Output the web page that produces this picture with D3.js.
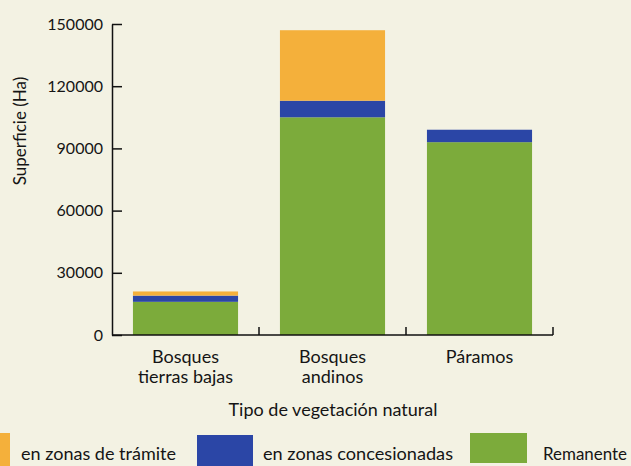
<!DOCTYPE html>
<html>
<head>
<meta charset="utf-8">
<script src="https://cdn.jsdelivr.net/npm/d3@7/dist/d3.min.js"></script>
<style>
html,body{margin:0;padding:0;background:#f3f2e3;}
svg{display:block;}
text{font-family:Lato,"Open Sans",sans-serif;fill:#151515;}
</style>
</head>
<body>
<svg id="chart" width="631" height="466"></svg>
<script>
const categories = [["Bosques","tierras bajas"],["Bosques","andinos"],["Páramos"]];
const categoryKeys = ["Bosques tierras bajas","Bosques andinos","Páramos"];
const remanente = [16000, 105000, 93000];
const concesionadas = [3000, 8000, 6000];
const tramite = [2000, 34000, 0];
const yTicks = [0, 30000, 60000, 90000, 120000, 150000];
const seriesNames = ["en zonas de trámite","en zonas concesionadas","Remanente"];
const colors = {remanente:"#7cab3b", concesionadas:"#2b46a6", tramite:"#f4b03b"};

const rows = categoryKeys.map((c,i)=>({cat:c, remanente:remanente[i], concesionadas:concesionadas[i], tramite:tramite[i]}));
const keys = ["remanente","concesionadas","tramite"];
const stacked = d3.stack().keys(keys)(rows);

const svg = d3.select("#chart");
const x = d3.scaleBand().domain(categoryKeys).range([112,553]).paddingInner(0.285).paddingOuter(0.1425);
const y = d3.scaleLinear().domain([0,150000]).range([335,24]);

// bars
svg.append("g").selectAll("g").data(stacked).join("g")
  .attr("fill", d=>colors[d.key])
  .selectAll("rect").data(d=>d).join("rect")
  .attr("x", d=>x(d.data.cat))
  .attr("width", x.bandwidth())
  .attr("y", d=>y(d[1]))
  .attr("height", d=>y(d[0])-y(d[1]));

// y axis
const yAxis = d3.axisLeft(y).tickValues(yTicks).tickFormat(d3.format("d")).tickSizeInner(-10).tickSizeOuter(0).tickPadding(9);
const gy = svg.append("g").attr("transform","translate(112,0)").call(yAxis);
gy.selectAll("path,line").attr("stroke","#111").attr("stroke-width",1.5);
gy.selectAll("text").style("font-size","16px").style("font-family","Lato, sans-serif").attr("fill","#151515");

// x axis (line with ticks at band boundaries)
const step = x.step();
const gx = svg.append("g");
gx.append("line").attr("x1",112).attr("x2",x.range()[1]).attr("y1",y(0)).attr("y2",y(0)).attr("stroke","#111").attr("stroke-width",1.5);
gx.selectAll("line.tk").data(categoryKeys).join("line").attr("class","tk")
  .attr("x1", d=>x(d)+x.bandwidth()+step*x.paddingInner()/2)
  .attr("x2", d=>x(d)+x.bandwidth()+step*x.paddingInner()/2)
  .attr("y1", y(0)).attr("y2", y(0)-8).attr("stroke","#111").attr("stroke-width",1.5);

// category labels
const lab = svg.append("g").selectAll("text").data(categories).join("text")
  .attr("x",(d,i)=>x(categoryKeys[i])+x.bandwidth()/2)
  .attr("y",363).attr("text-anchor","middle").style("font-size","18px");
lab.selectAll("tspan").data(d=>d).join("tspan")
  .attr("x",function(){return this.parentNode.getAttribute("x");})
  .attr("dy",(d,i)=>i===0?0:20).text(d=>d);

// axis titles
svg.append("text").attr("x",333).attr("y",416).attr("text-anchor","middle").style("font-size","18px").text("Tipo de vegetación natural");
svg.append("text").attr("transform","translate(26,131) rotate(-90)").attr("text-anchor","middle").style("font-size","17px").text("Superficie (Ha)");

// legend
const legend = [
  {name:seriesNames[0], color:colors.tramite, sx:-46, sw:56, tx:21, tl:155, sy:433, sh:33},
  {name:seriesNames[1], color:colors.concesionadas, sx:197, sw:56, tx:263, tl:190, sy:435, sh:31},
  {name:seriesNames[2], color:colors.remanente, sx:470, sw:57, tx:543, tl:84, sy:433, sh:30}
];
const lg = svg.append("g");
lg.selectAll("rect").data(legend).join("rect")
  .attr("x",d=>d.sx).attr("y",d=>d.sy).attr("width",d=>d.sw).attr("height",d=>d.sh).attr("fill",d=>d.color);
lg.selectAll("text").data(legend).join("text")
  .attr("x",d=>d.tx).attr("y",460).style("font-size","18px")
  .attr("textLength",d=>d.tl).attr("lengthAdjust","spacingAndGlyphs").text(d=>d.name);
</script>
</body>
</html>
